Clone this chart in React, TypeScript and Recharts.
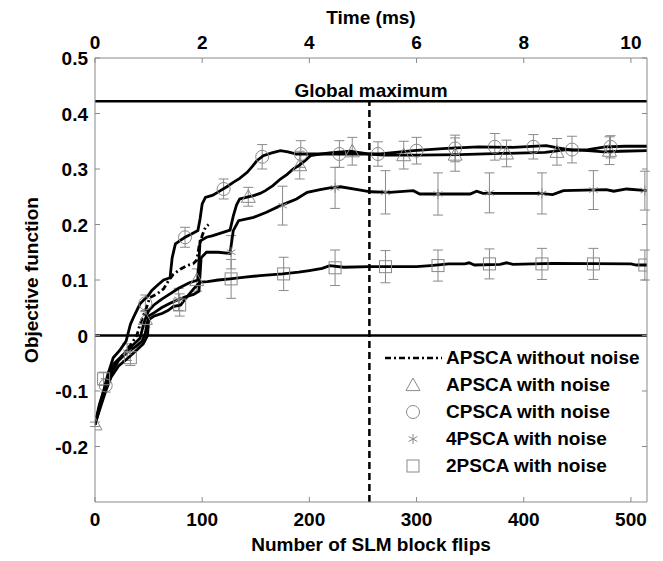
import React from "react";
import {
  ComposedChart,
  Line,
  Scatter,
  ErrorBar,
  XAxis,
  YAxis,
  ReferenceLine,
  Legend,
} from "recharts";

const FONT = "'Liberation Sans', Arial, Helvetica, sans-serif";
const GRAY = "#8a8a8a";
const TXT = { fontFamily: FONT, fontSize: 19, fontWeight: 700, fill: "#000" };

// axes
const flipTicks = [0, 100, 200, 300, 400, 500];
const timeTicks = [0, 2, 4, 6, 8, 10];
const FLIPS_PER_MS = 50;
const yTicks = [-0.2, -0.1, 0, 0.1, 0.2, 0.3, 0.4, 0.5];
const X_MAX = 515;
const globalMax = 0.422;
const halfFlips = 256;

const seriesNames = [
  "APSCA without noise",
  "APSCA with noise",
  "CPSCA with noise",
  "4PSCA with noise",
  "2PSCA with noise",
];

// curves: [flips, objective]
const apscaNoNoiseLine: [number, number][] = [
  [0, -0.16], [4, -0.13], [8, -0.105], [12, -0.08], [16, -0.06], [22, -0.045],
  [28, -0.03], [34, -0.015], [39, 0.0], [42, 0.02], [45, 0.035], [48, 0.05],
  [51, 0.068], [58, 0.075], [64, 0.084], [69, 0.1], [73, 0.11], [80, 0.12],
  [86, 0.126], [92, 0.13], [95, 0.136], [97, 0.16], [100, 0.18], [103, 0.195], [106, 0.2],
];

const apscaLine: [number, number][] = [
  [0, -0.16], [6, -0.115], [12, -0.075], [18, -0.05], [26, -0.035], [34, -0.02],
  [42, -0.005], [46, 0.025], [50, 0.045], [55, 0.055], [62, 0.065], [70, 0.075],
  [78, 0.085], [88, 0.095], [96, 0.1], [98, 0.17], [104, 0.177], [110, 0.18],
  [118, 0.185], [126, 0.19], [129, 0.215], [132, 0.235], [135, 0.246], [141, 0.249],
  [148, 0.252], [154, 0.256], [159, 0.261], [166, 0.27], [173, 0.282], [179, 0.29],
  [185, 0.3], [190, 0.306], [196, 0.315], [201, 0.324], [210, 0.327], [219, 0.329],
  [238, 0.332], [256, 0.327], [270, 0.325], [300, 0.325], [340, 0.326], [380, 0.328],
  [420, 0.33], [440, 0.335], [460, 0.333], [475, 0.331], [490, 0.332], [515, 0.333],
];

const cpscaLine: [number, number][] = [
  [0, -0.16], [4, -0.125], [8, -0.1], [12, -0.07], [17, -0.04], [23, -0.027],
  [29, -0.01], [33, 0.02], [36, 0.033], [42, 0.057], [45, 0.063], [49, 0.07],
  [53, 0.081], [58, 0.09], [64, 0.1], [70, 0.104], [72, 0.14], [75, 0.165],
  [80, 0.172], [84, 0.177], [90, 0.183], [96, 0.189], [98, 0.21], [100, 0.237],
  [103, 0.249], [110, 0.253], [117, 0.261], [123, 0.268], [129, 0.276], [135, 0.283],
  [142, 0.294], [147, 0.305], [151, 0.315], [157, 0.324], [165, 0.329], [173, 0.333],
  [180, 0.331], [188, 0.327], [210, 0.327], [240, 0.327], [266, 0.327], [297, 0.333],
  [328, 0.337], [358, 0.34], [390, 0.339], [421, 0.342], [432, 0.338], [445, 0.334],
  [460, 0.335], [476, 0.34], [495, 0.341], [515, 0.341],
];

const fourPscaLine: [number, number][] = [
  [0, -0.16], [5, -0.125], [10, -0.095], [16, -0.065], [22, -0.045], [30, -0.03],
  [38, -0.02], [44, -0.01], [47, 0.005], [50, 0.035], [56, 0.042], [62, 0.05],
  [70, 0.058], [78, 0.065], [85, 0.07], [92, 0.074], [97, 0.08], [99, 0.14],
  [104, 0.15], [115, 0.15], [126, 0.148], [129, 0.189], [134, 0.207], [148, 0.213],
  [160, 0.222], [173, 0.234], [188, 0.246], [198, 0.258], [210, 0.263], [219, 0.266],
  [229, 0.268], [245, 0.263], [257, 0.259], [275, 0.258], [297, 0.261], [303, 0.255],
  [350, 0.255], [356, 0.26], [362, 0.256], [415, 0.256], [427, 0.254], [437, 0.261],
  [477, 0.263], [484, 0.26], [496, 0.264], [515, 0.261],
];

const twoPscaLine: [number, number][] = [
  [0, -0.16], [5, -0.13], [10, -0.1], [15, -0.075], [22, -0.055], [30, -0.042],
  [38, -0.028], [45, -0.015], [49, 0.0], [50, 0.028], [55, 0.035], [63, 0.04],
  [68, 0.045], [73, 0.052], [80, 0.055], [85, 0.068], [92, 0.084], [98, 0.096],
  [105, 0.097], [115, 0.1], [126, 0.102], [140, 0.105], [154, 0.108], [175, 0.111],
  [190, 0.114], [200, 0.117], [212, 0.121], [219, 0.126], [232, 0.123], [256, 0.124],
  [300, 0.124], [313, 0.126], [330, 0.129], [345, 0.129], [349, 0.131], [354, 0.127],
  [378, 0.128], [384, 0.131], [390, 0.128], [427, 0.13], [500, 0.129], [505, 0.127],
  [515, 0.127],
];

// noisy runs: [flips, mean, error]
const apscaMarkers: [number, number, number][] = [
  [0, -0.16, 0.004], [47, 0.03, 0.015], [95, 0.1, 0.02], [143, 0.25, 0.017],
  [191, 0.307, 0.025], [240, 0.332, 0.025], [288, 0.325, 0.025], [336, 0.326, 0.03],
  [384, 0.328, 0.024], [431, 0.331, 0.024], [480, 0.333, 0.025],
];

const cpscaMarkers: [number, number, number][] = [
  [10, -0.09, 0.012], [47, 0.058, 0.015], [84, 0.177, 0.018], [120, 0.264, 0.018],
  [156, 0.322, 0.022], [192, 0.327, 0.024], [228, 0.327, 0.024], [264, 0.327, 0.022],
  [300, 0.333, 0.024], [336, 0.337, 0.024], [373, 0.34, 0.024], [409, 0.34, 0.022],
  [445, 0.335, 0.024], [481, 0.34, 0.02],
];

const fourPscaMarkers: [number, number, number][] = [
  [30, -0.03, 0.015], [78, 0.065, 0.02], [127, 0.15, 0.03], [175, 0.234, 0.035],
  [224, 0.266, 0.037], [271, 0.258, 0.039], [320, 0.255, 0.038], [368, 0.257, 0.036],
  [417, 0.256, 0.037], [465, 0.262, 0.035], [513, 0.261, 0.035],
];

const twoPscaMarkers: [number, number, number][] = [
  [8, -0.078, 0.012], [33, -0.04, 0.014], [79, 0.055, 0.02], [127, 0.102, 0.035],
  [176, 0.111, 0.03], [224, 0.122, 0.032], [271, 0.124, 0.029], [320, 0.126, 0.028],
  [368, 0.129, 0.027], [417, 0.129, 0.028], [465, 0.129, 0.028], [513, 0.127, 0.027],
];

const toLine = (pts: [number, number][]) => pts.map(([x, y]) => ({ x, y }));
const toPts = (pts: [number, number, number][]) =>
  pts.map(([x, y, err]) => ({ x, y, err }));

// marker glyphs
function triangle(cx: number, cy: number) {
  const s = 7;
  return (
    <path
      d={`M${cx},${cy - s} L${cx + s},${cy + s * 0.8} L${cx - s},${cy + s * 0.8} Z`}
      fill="none"
      stroke={GRAY}
    />
  );
}
function circle(cx: number, cy: number) {
  return <circle cx={cx} cy={cy} r={6.5} fill="none" stroke={GRAY} />;
}
function square(cx: number, cy: number) {
  return <rect x={cx - 6} y={cy - 6} width={12} height={12} fill="none" stroke={GRAY} />;
}
function asterisk(cx: number, cy: number) {
  const r = 5;
  const d = r * 0.866;
  return (
    <path
      d={`M${cx},${cy - r} L${cx},${cy + r} M${cx - d},${cy - r / 2} L${cx + d},${cy + r / 2} M${cx - d},${cy + r / 2} L${cx + d},${cy - r / 2}`}
      stroke={GRAY}
      fill="none"
    />
  );
}
const glyphs = [null, triangle, circle, asterisk, square];

const shapeOf = (g: (cx: number, cy: number) => React.ReactElement) => (p: any) =>
  g(p.cx, p.cy);

// ticks drawn inward, labels outside
const BOTTOM_GAP = 24;
const TOP_GAP = 9;
const LEFT_GAP = 7;

function BottomTick({ x, y, payload }: any) {
  const axisY = y - BOTTOM_GAP;
  return (
    <g>
      <line x1={x} x2={x} y1={axisY} y2={axisY - 5} stroke={GRAY} />
      <text x={x} y={y} textAnchor="middle" style={TXT}>
        {payload.value}
      </text>
    </g>
  );
}

function TopTick({ x, y, payload }: any) {
  const axisY = y + TOP_GAP;
  return (
    <g>
      <line x1={x} x2={x} y1={axisY} y2={axisY + 5} stroke={GRAY} />
      <text x={x} y={y} textAnchor="middle" style={TXT}>
        {payload.value / FLIPS_PER_MS}
      </text>
    </g>
  );
}

function LeftTick({ x, y, payload }: any) {
  const axisX = x + LEFT_GAP;
  return (
    <g>
      <line x1={axisX} x2={axisX + 5} y1={y} y2={y} stroke={GRAY} />
      <text x={x} y={y + 7} textAnchor="end" style={TXT}>
        {String(payload.value)}
      </text>
    </g>
  );
}

function RightTick({ x, y }: any) {
  return <line x1={x} x2={x - 5} y1={y} y2={y} stroke={GRAY} />;
}

function LegendBox() {
  return (
    <div style={{ fontFamily: FONT, fontSize: 19, fontWeight: 700, color: "#000" }}>
      {seriesNames.map((name, i) => {
        const g = glyphs[i];
        return (
          <div key={name} style={{ display: "flex", alignItems: "center", height: 27 }}>
            <svg width={60} height={26} style={{ display: "block" }}>
              {g ? (
                g(29, 13)
              ) : (
                <line
                  x1={1}
                  x2={58}
                  y1={13}
                  y2={13}
                  stroke="#000"
                  strokeWidth={2.5}
                  strokeDasharray="6 3 2 3"
                />
              )}
            </svg>
            <span style={{ marginLeft: 2, whiteSpace: "nowrap" }}>{name}</span>
          </div>
        );
      })}
    </div>
  );
}

const markerSets = [
  { data: toPts(apscaMarkers), glyph: triangle },
  { data: toPts(cpscaMarkers), glyph: circle },
  { data: toPts(fourPscaMarkers), glyph: asterisk },
  { data: toPts(twoPscaMarkers), glyph: square },
];

const solidLines = [apscaLine, cpscaLine, fourPscaLine, twoPscaLine];

export default function App() {
  return (
    <div style={{ position: "absolute", left: 0, top: 0, background: "#fff" }}>
      <ComposedChart
        width={663}
        height={561}
        margin={{ top: 0, right: 0, bottom: 0, left: 0 }}
        style={{ fontFamily: FONT }}
      >
        <XAxis
          xAxisId="bottom"
          dataKey="x"
          type="number"
          domain={[0, X_MAX]}
          ticks={flipTicks}
          allowDataOverflow
          height={59}
          tickSize={0}
          tickMargin={BOTTOM_GAP}
          tickLine={false}
          tick={<BottomTick />}
          axisLine={{ stroke: GRAY }}
          label={{
            value: "Number of SLM block flips",
            position: "insideBottom",
            offset: 10,
            style: TXT,
          }}
        />
        <XAxis
          xAxisId="top"
          orientation="top"
          dataKey="x"
          type="number"
          domain={[0, X_MAX]}
          ticks={timeTicks.map((t) => t * FLIPS_PER_MS)}
          allowDataOverflow
          height={58}
          tickSize={0}
          tickMargin={TOP_GAP}
          tickLine={false}
          tick={<TopTick />}
          axisLine={{ stroke: GRAY }}
          label={{ value: "Time (ms)", position: "insideTop", offset: 11, style: TXT }}
        />
        <YAxis
          yAxisId="left"
          dataKey="y"
          type="number"
          domain={[-0.3, 0.5]}
          ticks={yTicks}
          allowDataOverflow
          width={95}
          tickSize={0}
          tickMargin={LEFT_GAP}
          tickLine={false}
          tick={<LeftTick />}
          axisLine={{ stroke: GRAY }}
          label={{
            value: "Objective function",
            angle: -90,
            position: "insideLeft",
            offset: 31,
            style: { ...TXT, textAnchor: "middle" },
          }}
        />
        <YAxis
          yAxisId="right"
          orientation="right"
          dataKey="y"
          type="number"
          domain={[-0.3, 0.5]}
          ticks={yTicks}
          allowDataOverflow
          width={16}
          tickSize={0}
          tickMargin={0}
          tickLine={false}
          tick={<RightTick />}
          axisLine={{ stroke: GRAY }}
        />

        <ReferenceLine xAxisId="bottom" yAxisId="left" y={0} stroke="#000" strokeWidth={2.5} />
        <ReferenceLine
          xAxisId="bottom"
          yAxisId="left"
          y={globalMax}
          stroke="#000"
          strokeWidth={2.5}
          label={{ value: "Global maximum", position: "top", offset: 4, style: TXT }}
        />
        <ReferenceLine
          xAxisId="bottom"
          yAxisId="left"
          segment={[
            { x: halfFlips, y: -0.3 },
            { x: halfFlips, y: globalMax },
          ]}
          stroke="#000"
          strokeWidth={2.5}
          strokeDasharray="7 4"
        />

        {markerSets.map((m, i) => (
          <Scatter
            key={`m${i}`}
            xAxisId="bottom"
            yAxisId="left"
            data={m.data}
            shape={shapeOf(m.glyph)}
            legendType="none"
            isAnimationActive={false}
          >
            <ErrorBar dataKey="err" direction="y" width={5} stroke={GRAY} strokeWidth={1} />
          </Scatter>
        ))}

        {solidLines.map((pts, i) => (
          <Line
            key={`l${i}`}
            xAxisId="bottom"
            yAxisId="left"
            data={toLine(pts)}
            dataKey="y"
            type="linear"
            dot={false}
            stroke="#000"
            strokeWidth={2.8}
            legendType="none"
            isAnimationActive={false}
          />
        ))}
        <Line
          xAxisId="top"
          yAxisId="left"
          data={toLine(apscaNoNoiseLine)}
          dataKey="y"
          type="linear"
          dot={false}
          stroke="#000"
          strokeWidth={2.8}
          strokeDasharray="6 3 2 3"
          legendType="none"
          isAnimationActive={false}
        />

        <Legend
          layout="vertical"
          align="center"
          verticalAlign="middle"
          content={<LegendBox />}
          wrapperStyle={{ left: 384, top: 344, width: 270 }}
        />
      </ComposedChart>
    </div>
  );
}
